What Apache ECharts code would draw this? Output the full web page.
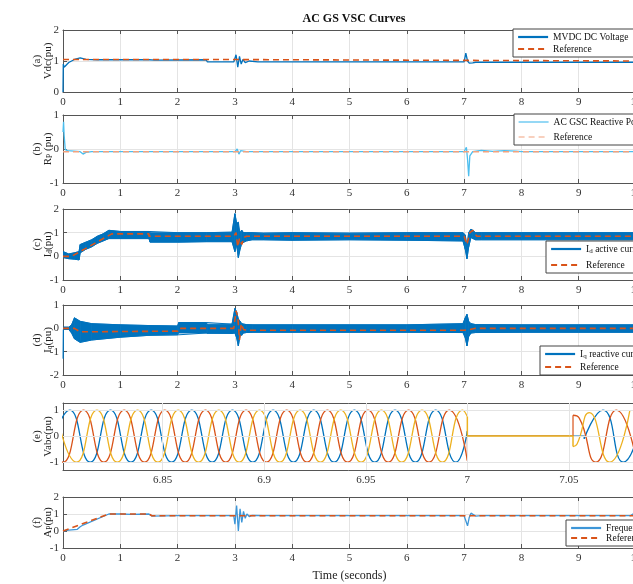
<!DOCTYPE html>
<html><head><meta charset="utf-8">
<script src="https://cdn.jsdelivr.net/npm/echarts/dist/echarts.min.js"></script>
<style>html,body{margin:0;padding:0;background:#fff}#c{width:633px;height:584px}</style>
</head><body><div id="c"></div>
<script>
// ---------- data ----------
// (a) MVDC DC voltage
const aT  = [0,0.005,0.02,0.05,0.1,0.2,0.3,0.4,0.6,1.5,1.6,2.5,2.52,2.98,3.02,3.05,3.08,3.11,3.14,3.18,3.25,3.4,7.0,7.03,7.06,7.09,7.12,7.15,7.2,10];
const aV  = [0,0.9,0.8,0.85,0.95,1.05,1.1,1.05,1.04,1.04,1.03,1.04,0.97,0.97,1.2,0.8,1.15,0.9,1.05,0.95,1.0,0.97,0.97,1.25,1.0,0.93,0.97,0.94,0.96,0.96];
const aRT = [0,2.5,2.5,10];
const aRV = [1.05,1.05,1.0,1.0];
// (b) reactive power
const bT  = [0,0.01,0.02,0.04,0.08,0.3,0.35,0.4,0.5,3.0,3.04,3.07,3.1,3.2,7.0,7.04,7.06,7.08,7.1,7.15,7.3,7.5,7.7,7.9,8.0,10];
const bV  = [0.5,0.8,0.4,-0.02,-0.05,-0.08,-0.15,-0.1,-0.08,-0.08,0,-0.15,-0.05,-0.08,-0.08,0.05,-0.3,-0.8,-0.2,-0.08,-0.04,-0.07,-0.05,-0.06,-0.08,-0.08];
const bRT = [0,10];
const bRV = [-0.08,-0.08];
// (c) Id active current : noisy band (lower / upper envelope) and reference
const cT  = [0,0.1,0.2,0.28,0.3,0.4,0.5,0.6,0.7,0.8,1.0,1.5,1.52,2.0,2.5,2.95,3.0,3.03,3.06,3.09,3.12,3.15,3.2,3.3,3.5,4,5,6,6.98,7.02,7.05,7.08,7.12,7.15,7.2,7.3,8,9,10];
const cLo = [-0.05,-0.1,-0.12,-0.15,0.15,0.3,0.4,0.55,0.65,0.75,0.75,0.75,0.6,0.6,0.62,0.62,0.2,0.5,-0.05,0.3,0.55,0.6,0.65,0.7,0.7,0.68,0.7,0.68,0.65,0.3,-0.1,0.4,0.8,0.75,0.7,0.7,0.7,0.7,0.7];
const cHi = [0.2,0.1,0.15,0.2,0.5,0.6,0.7,0.85,0.95,1.1,1.05,1.05,1.0,1.0,1.0,1.02,1.8,1.4,1.45,1.0,1.1,1.0,1.0,1.0,0.98,1.0,0.98,1.0,1.0,0.9,0.4,1.0,1.15,1.1,1.0,1.0,1.0,1.0,1.0];
const cRT = [0,0.15,0.85,1.5,1.5,2.98,3.02,3.05,3.08,3.12,3.16,3.2,7.0,7.05,7.1,7.15,7.22,10];
const cRV = [0,0,0.95,0.95,0.85,0.85,1.0,0.4,0.75,0.5,0.8,0.85,0.85,0.5,1.0,1.1,0.85,0.85];
// (d) Iq reactive current
const dT  = [0,0.005,0.01,0.1,0.15,0.2,0.3,0.5,1.0,1.5,2.0,2.02,2.5,2.52,2.95,3.0,3.03,3.06,3.09,3.12,3.15,3.2,3.3,4,5,6,6.98,7.02,7.05,7.08,7.12,7.2,8,9,10];
const dLo = [-1.3,-0.05,-0.05,-0.05,-0.2,-0.45,-0.6,-0.5,-0.38,-0.3,-0.28,-0.2,-0.2,-0.22,-0.22,-0.2,-0.4,-0.75,-0.3,-0.3,-0.2,-0.18,-0.17,-0.17,-0.17,-0.17,-0.18,-0.4,-0.75,-0.35,-0.2,-0.18,-0.17,-0.17,-0.17];
const dHi = [0.05,0.05,0.05,0.05,0.15,0.45,0.3,0.2,0.15,0.12,0.1,0.25,0.25,0.18,0.18,0.85,0.7,0.4,0.3,0.2,0.18,0.16,0.15,0.15,0.15,0.15,0.2,0.45,0.6,0.3,0.2,0.16,0.15,0.15,0.15];
const dRT = [0,0.2,0.3,2.0,2.02,2.98,3.02,3.05,3.08,3.11,3.15,3.2,7.0,7.1,7.2,10];
const dRV = [0,0,-0.15,-0.12,0,0,0.75,0.5,-0.5,0.2,-0.05,-0.08,-0.08,-0.05,0,0];
// (e) three-phase voltages: extremes
const eBlueT = [6.7944,6.8044,6.8144,6.8244,6.8344,6.8444,6.8544,6.8644,6.8744,6.8844,6.8944,6.9044,6.9144,6.9244,6.9344,6.9444,6.9544,6.9644,6.9744,6.9844,6.9944,7.0];
const eBlueV = [-1,1,-1,1,-1,1,-1,1,-1,1,-1,1,-1,1,-1,1,-1,1,-1,1,-1,0.19];
const eRedT  = [6.7911,6.8011,6.8111,6.8211,6.8311,6.8411,6.8511,6.8611,6.8711,6.8811,6.8911,6.9011,6.9111,6.9211,6.9311,6.9411,6.9511,6.9611,6.9711,6.9811,6.9911,7.0];
const eRedV  = [1,-1,1,-1,1,-1,1,-1,1,-1,1,-1,1,-1,1,-1,1,-1,1,-1,1,-0.94];
const eYelT  = [6.7977,6.8077,6.8177,6.8277,6.8377,6.8477,6.8577,6.8677,6.8777,6.8877,6.8977,6.9077,6.9177,6.9277,6.9377,6.9477,6.9577,6.9677,6.9777,6.9877,6.9977,7.0];
const eYelV  = [1,-1,1,-1,1,-1,1,-1,1,-1,1,-1,1,-1,1,-1,1,-1,1,-1,1,0.75];
const eBlueGapT = [7.0,7.0,7.0575,7.0575]; const eBlueGapV = [0.19,0,0,-0.1];
const eRedGapT  = [7.0,7.0,7.052,7.052];   const eRedGapV  = [-0.94,0,0,0.8];
const eYelGapT  = [7.0,7.0,7.052,7.052];   const eYelGapV  = [0.75,0,0,-0.4];
const eBluePostT = [7.0575,7.0667,7.0767,7.0867]; const eBluePostV = [-0.1,1,-1,1];
const eRedPostT  = [7.052,7.055,7.0633,7.0733,7.0833]; const eRedPostV = [0.8,0.7,-1,1,-1];
const eYelPostT  = [7.052,7.054,7.06,7.07,7.08]; const eYelPostV = [-0.4,-0.3,0.9,-1,1];
const eXTicks = [6.85,6.9,6.95,7,7.05];
const eYTicks = [-1,0,1];
// (f) frequency
const fT  = [0,0.1,0.25,0.3,0.35,0.8,1.0,1.2,1.5,1.55,2.0,2.98,3.0,3.03,3.06,3.09,3.12,3.15,3.18,3.21,3.25,3.3,3.5,7.0,7.03,7.06,7.09,7.12,7.15,7.2,7.3,9.9,10];
const fV  = [0,0.05,0.1,0.25,0.35,1.0,1.0,0.98,1.0,0.88,0.9,0.9,0.4,1.5,0.0,1.3,0.5,1.15,0.75,1.0,0.85,0.92,0.9,0.9,0.6,0.3,0.8,1.05,0.95,0.88,0.9,0.9,1.1];
const fRT = [0,0.8,1.5,1.55,10];
const fRV = [0,1.0,1.0,0.9,0.9];

// ---------- styling ----------
const FONT = '"Liberation Serif","Times New Roman",serif';
const BLUE = '#0072BD', ORANGE = '#D95319', YELLOW = '#EDB120';
const LBLUE = '#4DBEEE', LORANGE = '#F2A27E';
const FRAME = '#555', GRID = '#e4e4e4';
const zip = (t, v) => t.map((x, i) => [x, v[i]]);
const segs = (t, lo, hi) => t.slice(0, -1).map((x, i) => [x, lo[i], hi[i], t[i + 1], lo[i + 1], hi[i + 1]]);

const panels = [
  {top: 30,  h: 62, ymin: 0,  ymax: 2, name: '(a)\nVdc(pu)'},
  {top: 115, h: 68, ymin: -1, ymax: 1, name: '{n|(b)}\n{n|R}{s|P}{n| (pu)}'},
  {top: 209, h: 71, ymin: -1, ymax: 2, name: '{n|(c)}\n{n|I}{s|d}{n|(pu)}'},
  {top: 305, h: 70, ymin: -2, ymax: 1, name: '{n|(d)}\n{n|I}{s|q}{n|(pu)}'},
  {top: 403, h: 67, ymin: -1.3, ymax: 1.27, name: '(e)\nVabc(pu)'},
  {top: 497, h: 51, ymin: -1, ymax: 2, name: '{n|(f)}\n{n|A}{s|P}{n|(pu)}'}
];
const nameRich = {n: {fontFamily: FONT, fontSize: 11, color: '#222', lineHeight: 11},
                  s: {fontFamily: FONT, fontSize: 7.5, color: '#222', lineHeight: 11, verticalAlign: 'bottom', padding: [5, 0, 0, 0]}};

const grid = [], xAxis = [], yAxis = [];
panels.forEach((p, i) => {
  grid.push({left: 63, right: -3, top: p.top, height: p.h, outerBoundsMode: 'none', containLabel: false});
  const isE = i === 4;
  const xmin = isE ? 6.801 : 0, xmax = isE ? 7.083 : 10;
  const base = {type: 'value', gridIndex: i, min: xmin, max: xmax,
    axisLine: {show: true, onZero: false, lineStyle: {color: FRAME, width: 1}},
    axisTick: {show: true, inside: true, length: 4, lineStyle: {color: FRAME}}};
  if (!isE) base.interval = 1;
  const bottom = Object.assign({}, base, {position: 'bottom',
    splitLine: {show: !isE, lineStyle: {color: GRID}},
    axisLabel: {fontFamily: FONT, fontSize: 11, color: '#333', margin: 5, hideOverlap: false}});
  if (isE) {
    bottom.axisLabel.customValues = eXTicks;
    bottom.axisLabel.formatter = v => String(+v.toFixed(2));
    bottom.axisTick = Object.assign({}, base.axisTick, {customValues: eXTicks});
  }
  if (i === 5) { bottom.name = 'Time (seconds)'; bottom.nameLocation = 'middle'; bottom.nameGap = 22;
    bottom.nameMoveOverlap = false;
    bottom.nameTextStyle = {fontFamily: FONT, fontSize: 12, color: '#222'}; }
  xAxis.push(bottom);
  const top = Object.assign({}, base, {position: 'top', axisLabel: {show: false}, splitLine: {show: false}});
  if (isE) top.axisTick = Object.assign({}, base.axisTick, {customValues: eXTicks});
  xAxis.push(top);
  const y = {type: 'value', gridIndex: i, min: p.ymin, max: p.ymax,
    axisLine: {show: true, onZero: false, lineStyle: {color: FRAME, width: 1}},
    axisTick: {show: true, inside: true, length: 4, lineStyle: {color: FRAME}},
    splitLine: {show: !isE, lineStyle: {color: GRID}},
    axisLabel: {fontFamily: FONT, fontSize: 11, color: '#333', margin: 4},
    name: p.name, nameLocation: 'middle', nameRotate: 90, nameGap: 9, nameMoveOverlap: false,
    nameTextStyle: {fontFamily: FONT, fontSize: 11, color: '#222', lineHeight: 11, rich: nameRich}};
  if (isE) {
    y.axisLabel.customValues = eYTicks;
    y.axisTick = Object.assign({}, y.axisTick, {customValues: eYTicks});
  } else y.interval = 1;
  yAxis.push(y);
});

function line(name, gi, data, color, width, dashed, extra) {
  return Object.assign({name, type: 'line', xAxisIndex: gi * 2, yAxisIndex: gi, data,
    symbol: 'none', showSymbol: false, z: 3,
    lineStyle: {color, width, type: dashed ? [6, 4] : 'solid'}, itemStyle: {color}}, extra || {});
}
function bandSeries(name, gi, t, lo, hi) {
  return [
    {type: 'custom', xAxisIndex: gi * 2, yAxisIndex: gi, silent: true, clip: true, z: 2,
     data: segs(t, lo, hi), encode: {x: [0, 3], y: [1, 2, 4, 5]},
     renderItem: (params, api) => {
       const a = api.coord([api.value(0), api.value(2)]);
       const b = api.coord([api.value(3), api.value(5)]);
       const c = api.coord([api.value(3), api.value(4)]);
       const d = api.coord([api.value(0), api.value(1)]);
       return {type: 'polygon', shape: {points: [a, b, c, d]},
         style: {fill: BLUE, stroke: BLUE, lineWidth: 0.8}};
     }},
    line(name, gi, zip(t, hi), BLUE, 1, false, {z: 2}),
    line(name + '_lo', gi, zip(t, lo), BLUE, 1, false, {z: 2})
  ];
}
const eGrid = {type: 'line', xAxisIndex: 8, yAxisIndex: 4, data: [], z: 1, silent: true,
  markLine: {silent: true, symbol: ['none', 'none'], label: {show: false},
    lineStyle: {color: GRID, type: 'solid', width: 1},
    data: eYTicks.map(v => ({yAxis: v})).concat(eXTicks.map(v => ({xAxis: v})))}};

const series = [
  line('MVDC DC Voltage', 0, zip(aT, aV), BLUE, 1.3, false),
  line('Reference', 0, zip(aRT, aRV), ORANGE, 1.6, true, {z: 4}),
  line('AC GSC Reactive Power', 1, zip(bT, bV), LBLUE, 1.3, false),
  line('Reference ', 1, zip(bRT, bRV), LORANGE, 1.6, true, {z: 4}),
  ...bandSeries('Id active current', 2, cT, cLo, cHi),
  line('Reference  ', 2, zip(cRT, cRV), ORANGE, 1.6, true, {z: 4}),
  ...bandSeries('Iq reactive current', 3, dT, dLo, dHi),
  line('Reference   ', 3, zip(dRT, dRV), ORANGE, 1.6, true, {z: 4}),
  eGrid,
  line('eB1', 4, zip(eBlueT, eBlueV), BLUE, 1.3, false, {smooth: 0.55}),
  line('eR1', 4, zip(eRedT, eRedV), ORANGE, 1.3, false, {smooth: 0.55}),
  line('eY1', 4, zip(eYelT, eYelV), YELLOW, 1.3, false, {smooth: 0.55}),
  line('eB2', 4, zip(eBlueGapT, eBlueGapV), BLUE, 1.2, false),
  line('eR2', 4, zip(eRedGapT, eRedGapV), ORANGE, 1.2, false),
  line('eY2', 4, zip(eYelGapT, eYelGapV), YELLOW, 1.5, false, {z: 5}),
  line('eB3', 4, zip(eBluePostT, eBluePostV), BLUE, 1.3, false, {smooth: 0.55}),
  line('eR3', 4, zip(eRedPostT, eRedPostV), ORANGE, 1.3, false, {smooth: 0.55}),
  line('eY3', 4, zip(eYelPostT, eYelPostV), YELLOW, 1.3, false, {smooth: 0.55}),
  line('Frequency', 5, zip(fT, fV), '#3d96d8', 1.3, false),
  line('Reference    ', 5, zip(fRT, fRV), ORANGE, 1.6, true, {z: 4})
];

const legRich = {t: {fontFamily: FONT, fontSize: 9.5, color: '#111', lineHeight: 12},
                 s: {fontFamily: FONT, fontSize: 7, color: '#111', lineHeight: 12, verticalAlign: 'bottom', padding: [4, 0, 0, 0]}};
function fmt(n) {
  if (n === 'Id active current') return '{t|I}{s|d}{t| active current}';
  if (n === 'Iq reactive current') return '{t|I}{s|q}{t| reactive current}';
  return '{t|' + n.trim() + '}';
}
function legend(left, top, names, lw, gap) {
  return {left, top, orient: 'vertical', data: names, selectedMode: false,
    backgroundColor: '#fff', borderColor: '#444', borderWidth: 1, borderRadius: 0,
    padding: [3, 40, 3, 4], itemGap: gap, itemWidth: 30, itemHeight: 10,
    lineStyle: {width: lw}, itemStyle: {opacity: 0, color: 'rgba(0,0,0,0)', borderWidth: 0},
    formatter: fmt,
    textStyle: {fontFamily: FONT, fontSize: 9.5, color: '#111', rich: legRich}};
}

const option = {
  backgroundColor: '#fff',
  animation: false,
  title: {text: 'AC GS VSC Curves', left: 349, top: 8, textAlign: 'center',
    textStyle: {fontFamily: FONT, fontSize: 12, fontWeight: 'bold', color: '#111'}},
  grid, xAxis, yAxis, series,
  legend: [
    legend(513, 29, ['MVDC DC Voltage', 'Reference'], 2.2, 2),
    legend(514, 114, ['AC GSC Reactive Power', 'Reference '], 1.2, 5),
    legend(546, 241, ['Id active current', 'Reference  '], 2.2, 5),
    legend(540, 346, ['Iq reactive current', 'Reference   '], 2.2, 2),
    legend(566, 520, ['Frequency', 'Reference    '], 2.2, 0)
  ]
};
const chart = echarts.init(document.getElementById('c'), null, {renderer: 'canvas'});
chart.setOption(option);
</script></body></html>
